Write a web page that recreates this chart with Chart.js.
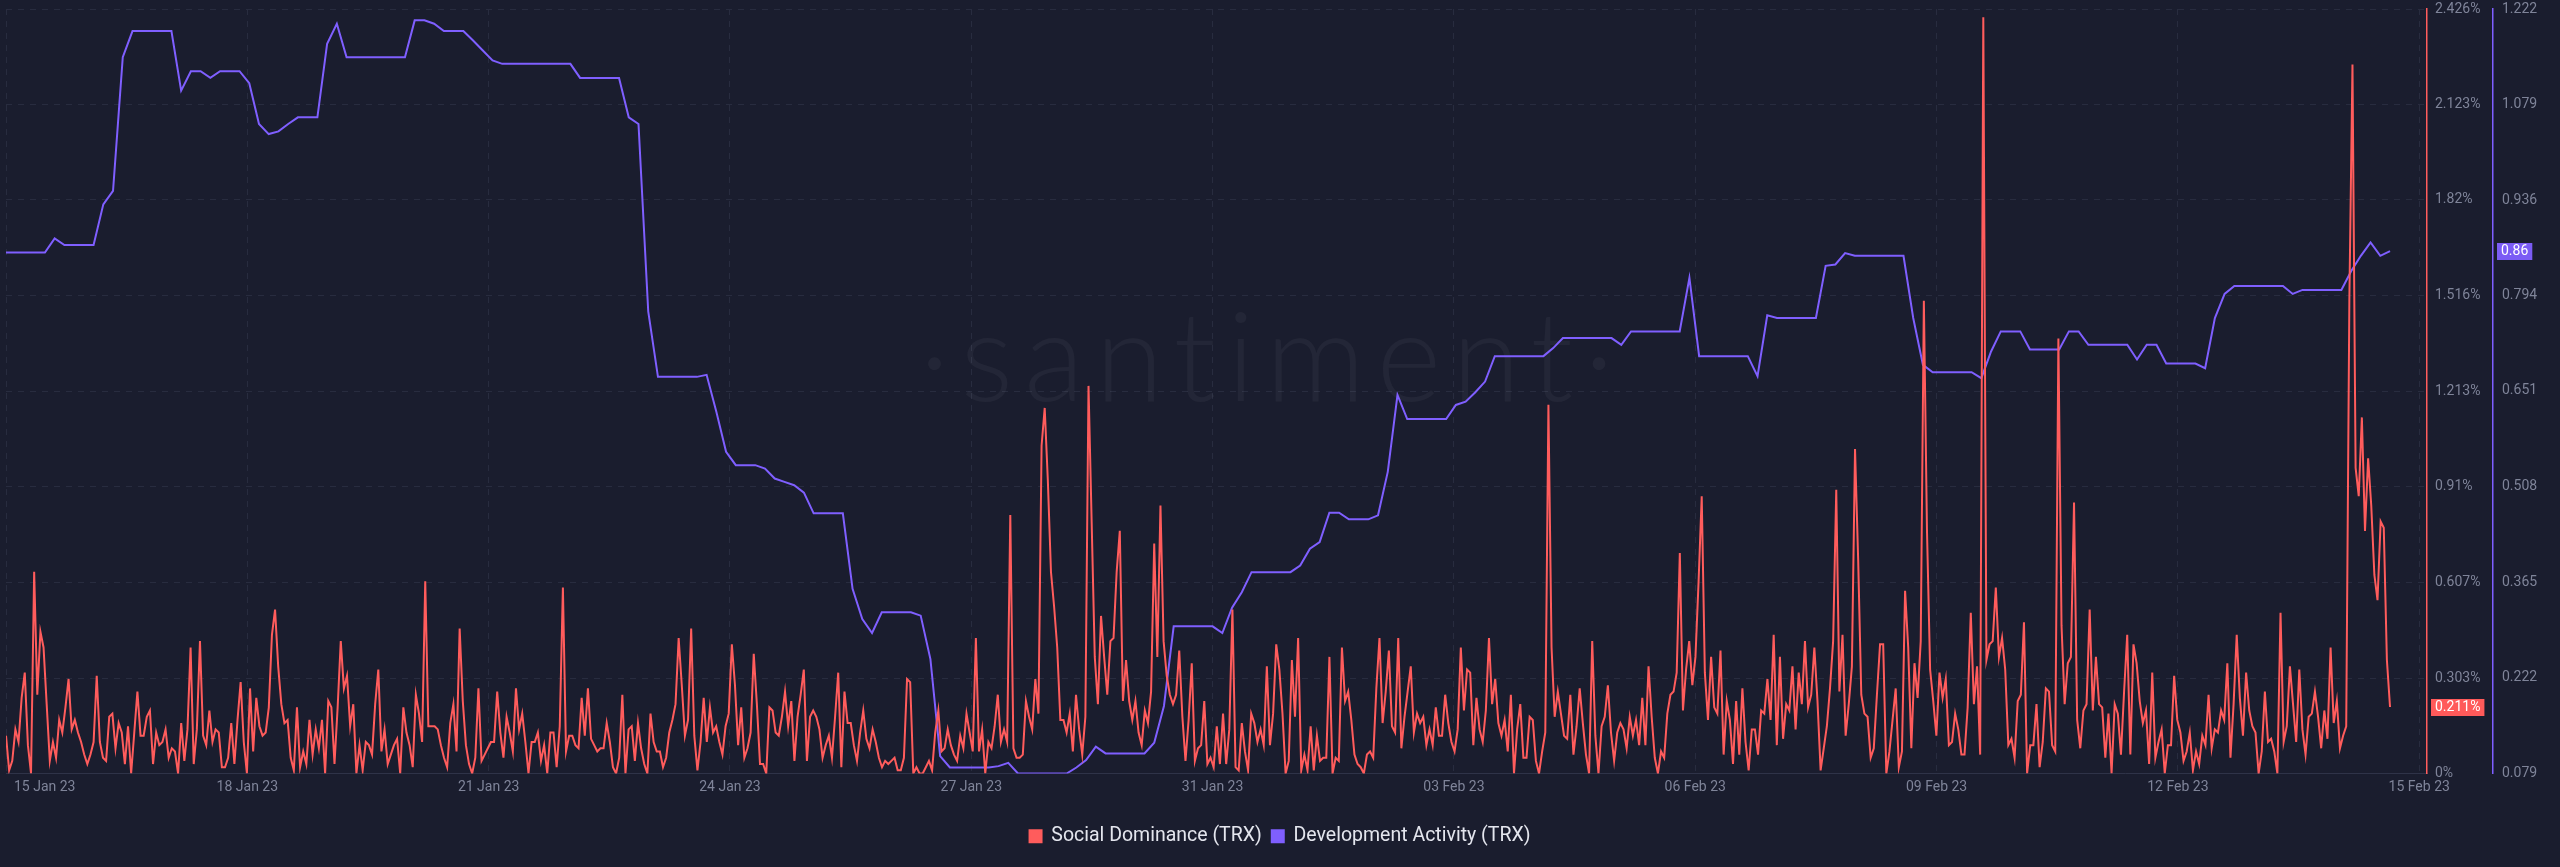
<!DOCTYPE html>
<html>
<head>
<meta charset="utf-8">
<script src="https://cdn.jsdelivr.net/npm/chart.js@4.4.0/dist/chart.umd.min.js"></script>
<style>
  html, body { margin: 0; padding: 0; background: #1a1d2e; }
  #wrap { width: 2560px; height: 867px; }
</style>
</head>
<body>
<div id="wrap"><canvas id="chart" width="2560" height="867"></canvas></div>
<script>
// Social Dominance (TRX), %, roughly hourly from 15 Jan 23 to 15 Feb 23
const socialValues = [
  0.12,0.01,0.04,0.14,0.10,0.24,0.32,0.09,0,0.64,0.25,0.45,0.40,0.22,0.04,0.10,0.05,0.17,0.13,0.21,0.30,0.14,0.17,0.13,0.10,0.06,0.03,0.06,0.10,0.31,0.10,0.05,0.04,0.18,0.19,0.08,0.16,0.13,0.03,0.15,0,0.13,0.26,0.12,0.12,0.18,0.20,0.03,0.13,0.09,0.10,0.14,0.05,0.08,0.07,0,0.16,0.04,0.14,0.40,0.03,0.14,0.42,0.12,0.09,0.20,0.10,0.14,0.13,0.02,0.02,0.05,0.16,0.03,0.17,0.29,0.10,0,0.27,0.07,0.24,0.15,0.12,0.13,0.21,0.44,0.52,0.34,0.22,0.16,0.17,0.05,0.01,0.21,0.02,0.07,0.03,0.17,0.06,0.14,0.08,0.17,0,0.23,0.21,0.03,0.21,0.42,0.27,0.31,0.15,0.22,0,0.09,0.01,0.10,0.09,0.06,0.22,0.33,0.07,0.14,0.03,0.06,0.09,0.11,0,0.21,0.13,0.09,0.02,
  0.25,0.19,0.10,0.61,0.15,0.15,0.15,0.14,0.09,0.05,0.02,0.16,0.22,0.07,0.46,0.23,0.09,0.03,0,0.05,0.27,0.04,0.06,0.08,0.10,0.10,0.26,0.13,0.05,0.18,0.13,0.07,0.27,0.14,0.19,0.10,0,0.10,0.10,0.13,0.04,0.09,0,0.13,0.13,0.02,0.15,0.59,0.07,0.12,0.12,0.09,0.08,0.24,0.12,0.27,0.11,0.09,0.07,0.08,0.08,0.16,0.10,0.02,0,0.05,0.25,0,0.14,0.15,0.04,0.16,0.08,0.03,0,0.19,0.10,0.07,0.07,0.02,0.05,0.13,0.17,0.22,0.43,0.28,0.12,0.17,0.46,0.12,0.01,0.10,0.24,0.10,0.21,0.13,0.15,0.10,0.06,0.15,0.19,0.41,0.28,0.09,0.21,0.05,0.08,0.13,0.38,0.22,0.03,0.03,0,0.21,0.20,0.13,0.12,0.18,0.26,0.15,0.23,0.04,0.18,0.25,0.33,0.04,0.18,0.20,
  0.18,0.14,0.05,0.09,0.12,0.05,0.18,0.32,0.02,0.26,0.16,0.16,0.09,0.04,0.13,0.20,0.11,0.08,0.14,0.10,0.05,0.02,0.04,0.03,0.04,0.05,0.01,0.01,0.05,0.30,0.29,0,0.02,0,0,0.02,0.04,0.01,0.13,0.20,0.07,0.08,0.14,0.09,0.06,0.04,0.12,0.08,0.19,0.13,0.07,0.43,0.07,0.14,0,0.10,0.08,0.15,0.25,0.10,0.14,0.10,0.82,0.08,0.05,0.05,0.06,0.23,0.18,0.14,0.30,0.19,1.04,1.16,0.93,0.64,0.53,0.40,0.17,0.17,0.13,0.19,0.07,0.25,0.14,0.06,0.18,1.23,0.80,0.37,0.22,0.50,0.37,0.25,0.42,0.43,0.64,0.77,0.23,0.36,0.23,0.17,0.23,0.13,0.09,0.20,0.16,0.26,0.73,0.37,0.85,0.42,0.31,0.25,0.22,0.25,0.39,0.18,0.04,0.17,0.35,0.04,0.08,0.09,0.23,0.03,0.05,
  0.02,0.15,0.03,0.19,0.03,0.14,0.52,0.02,0.01,0.16,0.07,0.01,0.19,0.16,0.10,0.14,0.09,0.34,0.09,0.19,0.41,0.33,0.19,0,0.04,0.36,0.18,0.43,0.01,0.06,0.01,0.15,0.01,0.12,0.04,0.05,0.05,0.37,0,0.05,0.04,0.40,0.23,0.26,0.17,0.06,0.03,0.02,0,0.06,0.07,0.05,0.27,0.43,0.16,0.26,0.39,0.15,0.13,0.43,0.08,0.18,0.26,0.34,0.13,0.19,0.16,0.18,0.09,0.14,0.09,0.21,0.12,0.12,0.25,0.16,0.10,0.07,0.14,0.40,0.20,0.33,0.32,0.09,0.24,0.14,0.10,0.20,0.43,0.22,0.30,0.16,0.12,0.17,0.07,0.25,0,0.14,0.22,0.05,0.05,0.18,0.17,0.04,0,0.07,0.13,1.17,0.40,0.18,0.26,0.19,0.12,0.11,0.25,0.06,0.15,0.27,0.16,0.06,0,0.42,0.12,0,0.15,0.18,0.28,0.13,
  0.04,0.13,0.16,0.14,0.08,0.18,0.12,0.17,0.09,0.24,0.09,0.34,0.18,0.05,0,0.07,0.05,0.19,0.25,0.26,0.32,0.70,0.20,0.33,0.42,0.28,0.37,0.61,0.88,0.32,0.17,0.37,0.21,0.19,0.39,0.06,0.23,0.17,0.03,0.23,0.06,0.27,0.10,0.01,0.14,0.14,0.06,0.20,0.19,0.30,0.17,0.44,0.09,0.37,0.11,0.22,0.20,0.34,0.14,0.32,0.22,0.42,0.21,0.25,0.40,0.23,0.01,0.08,0.15,0.27,0.42,0.90,0.26,0.44,0.12,0.22,0.34,1.03,0.68,0.25,0.19,0.18,0.05,0.08,0.25,0.41,0.41,0,0.07,0.17,0.27,0.02,0.07,0.58,0.40,0.08,0.35,0.24,0.42,1.50,0.77,0.33,0.23,0.12,0.32,0.24,0.30,0.09,0.10,0.19,0.14,0.06,0.06,0.21,0.51,0.22,0.34,0.06,2.40,0.36,0.41,0.42,0.59,0.37,0.43,0.33,
  0.09,0.11,0.05,0.23,0.25,0.48,0,0.09,0.09,0.22,0.02,0.10,0.27,0.26,0.09,0.07,1.38,0.47,0.22,0.35,0.37,0.86,0.17,0.08,0.20,0.22,0.52,0.20,0.37,0.22,0.21,0.05,0.19,0,0.22,0.19,0.06,0.26,0.44,0.06,0.41,0.35,0.23,0.16,0.20,0.03,0.32,0.05,0.10,0.14,0,0.09,0.09,0.31,0.17,0.13,0.04,0.07,0.13,0.01,0.07,0.03,0.12,0.09,0.25,0.08,0.14,0.13,0.20,0.17,0.35,0.05,0.22,0.44,0.24,0.12,0.32,0.20,0.15,0.13,0,0.07,0.26,0.10,0.11,0.07,0,0.51,0.10,0.15,0.34,0.22,0.10,0.33,0.14,0.06,0.18,0.19,0.26,0.18,0.08,0.20,0.11,0.40,0.16,0.23,0.08,0.12,0.15,1.50,2.25,0.97,0.88,1.13,0.77,1.00,0.85,0.63,0.55,0.80,0.78,0.36,0.211
];

// Development Activity (TRX), one value every 3 hours
const devValues = [
  0.858,0.858,0.858,0.858,0.858,0.879,0.869,0.869,0.869,0.869,0.930,0.950,1.150,1.189,1.189,1.189,1.189,1.189,1.100,1.129,
  1.129,1.119,1.129,1.129,1.129,1.111,1.050,1.035,1.039,1.050,1.060,1.060,1.060,1.170,1.200,1.150,1.150,1.150,1.150,1.150,
  1.150,1.150,1.205,1.205,1.200,1.189,1.189,1.189,1.175,1.160,1.145,1.140,1.140,1.140,1.140,1.140,1.140,1.140,1.140,1.119,
  1.119,1.119,1.119,1.119,1.060,1.050,0.770,0.672,0.672,0.672,0.672,0.672,0.675,0.620,0.560,0.540,0.540,0.540,0.535,0.520,
  0.515,0.510,0.499,0.468,0.468,0.468,0.468,0.355,0.310,0.289,0.320,0.320,0.320,0.320,0.315,0.250,0.105,0.088,0.088,0.088,
  0.088,0.088,0.090,0.095,0.079,0.079,0.079,0.079,0.079,0.079,0.088,0.099,0.119,0.109,0.109,0.109,0.109,0.109,0.125,0.180,
  0.299,0.299,0.299,0.299,0.299,0.289,0.327,0.350,0.380,0.380,0.380,0.380,0.380,0.390,0.415,0.425,0.469,0.469,0.459,0.459,
  0.459,0.465,0.530,0.645,0.609,0.609,0.609,0.609,0.609,0.630,0.635,0.649,0.665,0.703,0.703,0.703,0.703,0.703,0.703,0.715,
  0.730,0.730,0.730,0.730,0.730,0.730,0.720,0.740,0.740,0.740,0.740,0.740,0.740,0.820,0.703,0.703,0.703,0.703,0.703,0.703,
  0.673,0.764,0.760,0.760,0.760,0.760,0.760,0.838,0.840,0.857,0.853,0.853,0.853,0.853,0.853,0.853,0.760,0.690,0.679,0.679,
  0.679,0.679,0.679,0.670,0.710,0.740,0.740,0.740,0.713,0.713,0.713,0.713,0.740,0.740,0.720,0.720,0.720,0.720,0.720,0.698,
  0.720,0.720,0.692,0.692,0.692,0.692,0.685,0.760,0.796,0.808,0.808,0.808,0.808,0.808,0.808,0.796,0.802,0.802,0.802,0.802,
  0.802,0.830,0.853,0.873,0.853,0.86
];

const xTickLabels = ['15 Jan 23', '18 Jan 23', '21 Jan 23', '24 Jan 23', '27 Jan 23', '31 Jan 23',
                     '03 Feb 23', '06 Feb 23', '09 Feb 23', '12 Feb 23', '15 Feb 23'];
const socialTicks = [0, 0.303, 0.607, 0.91, 1.213, 1.516, 1.82, 2.123, 2.426];
const devTicks = [0.079, 0.222, 0.365, 0.508, 0.651, 0.794, 0.936, 1.079, 1.222];

const SPAN_HOURS = 735;       // both series end here
const X_MAX_HOURS = 746.4;    // axis runs a little past the last point
const TICK_STEP_HOURS = 74.4;
const DEV_STEP_HOURS = 3;

const RED = '#ff5c5c';
const PURPLE = '#7f5fff';
const GRID = '#282c3f';
const TICK_COLOR = '#7f8499';

const socialPoints = socialValues.map((v, i) => ({ x: i * SPAN_HOURS / (socialValues.length - 1), y: v }));
const devPoints = devValues.map((v, i) => ({ x: i * DEV_STEP_HOURS, y: v }));

function drawBadge(ctx, text, x, y, color) {
  ctx.save();
  ctx.font = '14px Roboto';
  const w = ctx.measureText(text).width + 8;
  ctx.fillStyle = color;
  ctx.fillRect(x, Math.round(y - 8.5), w, 17);
  ctx.fillStyle = '#ffffff';
  ctx.textBaseline = 'middle';
  ctx.fillText(text, x + 4, y + 0.5);
  ctx.restore();
}

const decor = {
  id: 'decor',
  beforeDraw(chart) {
    // first date label sits inside the left edge, the last one centred on its tick
    const items = chart.scales.x.getLabelItems();
    if (items.length) {
      items[0].options.textAlign = 'left';
      items[0].options.translation[0] = chart.chartArea.left + 8;
      items[items.length - 1].options.textAlign = 'center';
    }
  },
  beforeDatasetsDraw(chart) {
    const { ctx, chartArea } = chart;
    ctx.save();
    ctx.font = '300 124px Lato';
    ctx.letterSpacing = '11px';
    ctx.fillStyle = 'rgba(255,255,255,0.045)';
    ctx.textAlign = 'center';
    ctx.textBaseline = 'middle';
    ctx.fillText('\u00b7santiment\u00b7', chartArea.left + chartArea.width * 0.523, chartArea.top + chartArea.height * 0.46);
    ctx.restore();
  },
  afterDraw(chart) {
    const ctx = chart.ctx;
    const ys = chart.scales.y, yd = chart.scales.y2;
    const lastS = socialValues[socialValues.length - 1];
    const lastD = devValues[devValues.length - 1];
    drawBadge(ctx, lastS + '%', ys.left + 4, ys.getPixelForValue(lastS), '#ff5a5a');
    drawBadge(ctx, String(lastD), yd.left + 4, yd.getPixelForValue(lastD), '#7b5cf5');
  }
};

new Chart(document.getElementById('chart'), {
  type: 'line',
  data: {
    datasets: [
      {
        label: 'Social Dominance (TRX)',
        data: socialPoints,
        yAxisID: 'y',
        borderColor: RED,
        backgroundColor: RED,
        borderWidth: 2,
        pointRadius: 0,
        tension: 0
      },
      {
        label: 'Development Activity (TRX)',
        data: devPoints,
        yAxisID: 'y2',
        borderColor: PURPLE,
        backgroundColor: PURPLE,
        borderWidth: 2,
        pointRadius: 0,
        tension: 0
      }
    ]
  },
  options: {
    responsive: false,
    devicePixelRatio: 1,
    animation: false,
    layout: { padding: { left: 0, right: 0, top: 0, bottom: 11 } },
    plugins: {
      tooltip: { enabled: false },
      legend: {
        position: 'bottom',
        labels: {
          color: '#e4e6ee',
          font: { family: 'Roboto', size: 19.5 },
          boxWidth: 12,
          boxHeight: 12,
          padding: 10
        }
      }
    },
    scales: {
      x: {
        type: 'linear',
        min: 0,
        max: X_MAX_HOURS,
        afterBuildTicks: (scale) => {
          scale.ticks = xTickLabels.map((_, k) => ({ value: k * TICK_STEP_HOURS }));
        },
        afterFit: (scale) => { scale.height = 43; },
        grid: { color: GRID, drawTicks: false },
        border: { display: true, color: '#2f3348', dash: [6, 6] },
        ticks: {
          color: TICK_COLOR,
          font: { family: 'Roboto', size: 14 },
          padding: 6,
          align: 'inner',
          maxRotation: 0,
          autoSkip: false,
          callback: (v, i) => xTickLabels[i]
        }
      },
      y: {
        position: 'right',
        min: 0,
        max: 2.426,
        afterBuildTicks: (scale) => { scale.ticks = socialTicks.map(v => ({ value: v })); },
        afterFit: (scale) => { scale.width = 66; scale.paddingTop = 9; scale.paddingBottom = 0; },
        grid: { color: GRID, drawTicks: false },
        border: { display: true, color: RED, width: 1.5, dash: [6, 6] },
        ticks: {
          color: TICK_COLOR,
          font: { family: 'Roboto', size: 14 },
          padding: 8,
          callback: (v) => v + '%'
        }
      },
      y2: {
        position: 'right',
        min: 0.079,
        max: 1.222,
        afterBuildTicks: (scale) => { scale.ticks = devTicks.map(v => ({ value: v })); },
        afterFit: (scale) => { scale.width = 67; scale.paddingTop = 9; scale.paddingBottom = 0; },
        grid: { display: false, drawTicks: false },
        border: { display: true, color: PURPLE, width: 1.5 },
        ticks: {
          color: TICK_COLOR,
          font: { family: 'Roboto', size: 14 },
          padding: 9,
          callback: (v) => String(v)
        }
      }
    }
  },
  plugins: [decor]
});
</script>
</body>
</html>
